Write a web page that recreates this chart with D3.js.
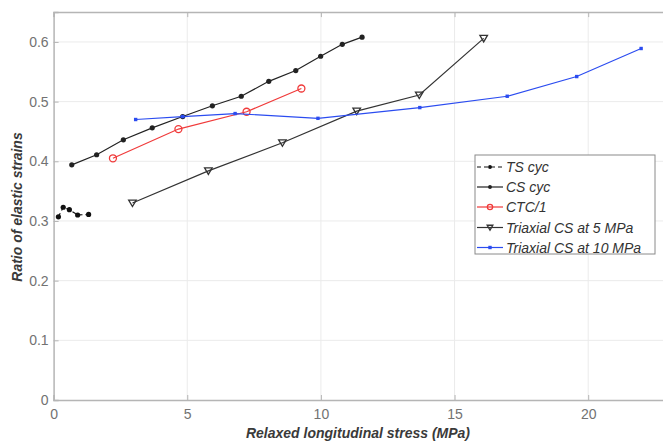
<!DOCTYPE html>
<html><head><meta charset="utf-8">
<script src="https://cdn.jsdelivr.net/npm/d3@7"></script>
<style>body{margin:0;background:#fff}svg{display:block}</style>
</head><body>
<svg id="c" width="663" height="444"></svg>
<script>
const tsX = [0.18, 0.36, 0.59, 0.90, 1.31];
const tsY = [0.307, 0.323, 0.319, 0.310, 0.311];
const csX = [0.68, 1.61, 2.61, 3.69, 4.83, 5.94, 7.02, 8.05, 9.06, 9.99, 10.80, 11.54];
const csY = [0.394, 0.411, 0.436, 0.456, 0.475, 0.493, 0.509, 0.534, 0.552, 0.576, 0.596, 0.608];
const ctcX = [2.22, 4.67, 7.22, 9.27];
const ctcY = [0.405, 0.454, 0.483, 0.522];
const tri5X = [2.95, 5.79, 8.56, 11.34, 13.68, 16.09];
const tri5Y = [0.330, 0.384, 0.431, 0.484, 0.511, 0.606];
const tri10X = [3.07, 4.83, 6.79, 9.89, 13.70, 16.97, 19.57, 21.98];
const tri10Y = [0.470, 0.475, 0.480, 0.472, 0.490, 0.509, 0.542, 0.589];
const xTicks = [0, 5, 10, 15, 20];
const yTicks = [0, 0.1, 0.2, 0.3, 0.4, 0.5, 0.6];
const seriesNames = ["TS cyc", "CS cyc", "CTC/1", "Triaxial CS at 5 MPa", "Triaxial CS at 10 MPa"];

const series = [
  {name: seriesNames[0], xs: tsX, ys: tsY, color: "#111", marker: "dot", dash: "4,3"},
  {name: seriesNames[1], xs: csX, ys: csY, color: "#222", marker: "dot", dash: null},
  {name: seriesNames[2], xs: ctcX, ys: ctcY, color: "#f03a3a", marker: "circle", dash: null},
  {name: seriesNames[3], xs: tri5X, ys: tri5Y, color: "#333", marker: "tri", dash: null},
  {name: seriesNames[4], xs: tri10X, ys: tri10Y, color: "#2b4cf0", marker: "square", dash: null}
];

const svg = d3.select("#c");
const L = 53.6, T = 12.1, B = 400;
const x = d3.scaleLinear().domain([0, 23]).range([L, L + 23 * 26.73]);
const y = d3.scaleLinear().domain([0, 0.65]).range([B, T]);
const R = x(23);

// grid
const g = svg.append("g");
g.selectAll(".gx").data(xTicks.filter(d => d > 0)).enter().append("line")
  .attr("x1", d => x(d)).attr("x2", d => x(d)).attr("y1", B).attr("y2", T)
  .attr("stroke", "#ebebeb").attr("stroke-width", 1);
g.selectAll(".gy").data(yTicks.filter(d => d > 0)).enter().append("line")
  .attr("x1", L).attr("x2", R).attr("y1", d => y(d)).attr("y2", d => y(d))
  .attr("stroke", "#ebebeb").attr("stroke-width", 1);

// axes
const ax = svg.append("g").attr("transform", `translate(0,${B})`)
  .call(d3.axisBottom(x).tickValues(xTicks).tickSize(-5).tickPadding(9).tickFormat(d3.format("d")));
const ay = svg.append("g").attr("transform", `translate(${L},0)`)
  .call(d3.axisLeft(y).tickValues(yTicks).tickSize(-5).tickPadding(5).tickFormat(d => d === 0 ? "0" : d3.format(".1f")(d)));
const axT = svg.append("g").attr("transform", `translate(0,${T})`)
  .call(d3.axisTop(x).tickValues(xTicks).tickSize(-5).tickFormat(""));
const ayR = svg.append("g").attr("transform", `translate(${R},0)`)
  .call(d3.axisRight(y).tickValues(yTicks).tickSize(-5).tickFormat(""));
[ax, ay, axT, ayR].forEach(a => {
  a.select(".domain").attr("stroke", "#b5b5b5").attr("stroke-width", 1.5);
  a.selectAll(".tick line").attr("stroke", "#b5b5b5");
  a.selectAll("text").attr("fill", "#727272").attr("font-family", "Liberation Sans, Arial, sans-serif").attr("font-size", 14);
});

// lines & markers
const line = d3.line().x(d => x(d[0])).y(d => y(d[1]));
function drawMarker(sel, m, color, cx, cy, k) {
  k = k || 1;
  if (m === "dot") sel.append("circle").attr("cx", cx).attr("cy", cy).attr("r", 2.6 * k).attr("fill", color);
  else if (m === "circle") sel.append("circle").attr("cx", cx).attr("cy", cy).attr("r", 3.5 * k).attr("fill", "none").attr("stroke", color).attr("stroke-width", 1.3);
  else if (m === "tri") sel.append("path").attr("d", `M${cx-3.8*k},${cy-3*k}L${cx+3.8*k},${cy-3*k}L${cx},${cy+3.5*k}Z`).attr("fill", "none").attr("stroke", color).attr("stroke-width", 1.3);
  else if (m === "square") sel.append("rect").attr("x", cx - 1.7).attr("y", cy - 1.7).attr("width", 3.4).attr("height", 3.4).attr("fill", color);
}
series.forEach(s => {
  const pts = s.xs.map((v, i) => [v, s.ys[i]]);
  svg.append("path").datum(pts).attr("d", line).attr("fill", "none")
    .attr("stroke", s.color).attr("stroke-width", 1.2)
    .attr("stroke-dasharray", s.dash);
  const mg = svg.append("g");
  pts.forEach(p => drawMarker(mg, s.marker, s.color, x(p[0]), y(p[1])));
});

// legend
const lg = svg.append("g");
lg.append("rect").attr("x", 475).attr("y", 155).attr("width", 180).attr("height", 99)
  .attr("fill", "#fff").attr("stroke", "#8a8a8a").attr("stroke-width", 1);
const rowY = [167, 187, 207, 227.5, 247.5];
series.forEach((s, i) => {
  const yy = rowY[i];
  lg.append("line").attr("x1", 477).attr("x2", 503).attr("y1", yy).attr("y2", yy)
    .attr("stroke", s.color).attr("stroke-width", 1.2).attr("stroke-dasharray", s.dash);
  drawMarker(lg, s.marker, s.color, 490, yy, 0.75);
  lg.append("text").attr("x", 506).attr("y", yy + 5).text(s.name)
    .attr("font-family", "Liberation Sans, Arial, sans-serif").attr("font-size", 14)
    .attr("font-style", "italic").attr("fill", "#333");
});

// axis titles
svg.append("text").attr("x", 358).attr("y", 438).attr("text-anchor", "middle")
  .attr("font-family", "Liberation Sans, Arial, sans-serif").attr("font-size", 14)
  .attr("font-weight", "bold").attr("font-style", "italic").attr("fill", "#3a3a3a")
  .text("Relaxed longitudinal stress (MPa)");
svg.append("text").attr("transform", "translate(22,207) rotate(-90)").attr("text-anchor", "middle")
  .attr("font-family", "Liberation Sans, Arial, sans-serif").attr("font-size", 14)
  .attr("font-weight", "bold").attr("font-style", "italic").attr("fill", "#3a3a3a")
  .text("Ratio of elastic strains");
</script>
</body></html>
